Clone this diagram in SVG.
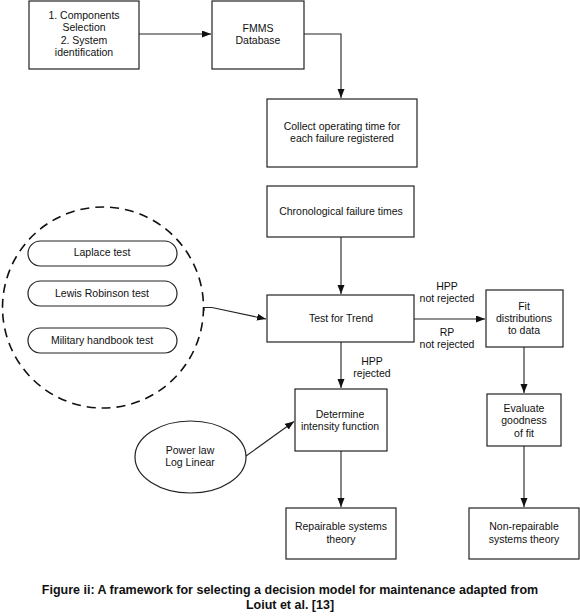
<svg xmlns="http://www.w3.org/2000/svg" width="580" height="616" viewBox="0 0 580 616">
<style>
.box{fill:#fff;stroke:#222;stroke-width:1.2}
.t{font-family:"Liberation Sans",Arial,sans-serif;font-size:10.5px;fill:#111;text-anchor:middle}
.c{fill:none;stroke:#222;stroke-width:1.1}
.cap{font-family:"Liberation Sans",Arial,sans-serif;font-weight:bold;font-size:12.5px;fill:#111;text-anchor:middle}
</style>
<defs>
<marker id="ah" markerUnits="userSpaceOnUse" markerWidth="10" markerHeight="8" refX="9" refY="3.5" orient="auto">
<path d="M0,0 L9,3.5 L0,7 z" fill="#111"/>
</marker>
</defs>
<rect width="580" height="616" fill="#fff"/>
<g id="connectors">
<path class="c" d="M139,34 H211" marker-end="url(#ah)"/>
<path class="c" d="M304,34 H341 V98" marker-end="url(#ah)"/>
<path class="c" d="M341,237 V294" marker-end="url(#ah)"/>
<path class="c" d="M204,311 V307.5 H212 L266,319" marker-end="url(#ah)"/>
<path class="c" d="M414,319 H485" marker-end="url(#ah)"/>
<path class="c" d="M341,342 V388" marker-end="url(#ah)"/>
<path class="c" d="M246,456 L294,421.5" marker-end="url(#ah)"/>
<path class="c" d="M341,451 V507" marker-end="url(#ah)"/>
<path class="c" d="M524,347 V393" marker-end="url(#ah)"/>
<path class="c" d="M524,446 V507" marker-end="url(#ah)"/>
</g>
<g id="components">
<rect class="box" x="29" y="1" width="110" height="68"/>
<text class="t" x="84" y="19">1. Components</text>
<text class="t" x="84" y="31">Selection</text>
<text class="t" x="84" y="44">2. System</text>
<text class="t" x="84" y="56">identification</text>
</g>
<g id="fmms">
<rect class="box" x="212" y="1" width="92" height="68"/>
<text class="t" x="258" y="32">FMMS</text>
<text class="t" x="258" y="44">Database</text>
</g>
<g id="collect">
<rect class="box" x="267" y="99" width="150" height="68"/>
<text class="t" x="342" y="130">Collect operating time for</text>
<text class="t" x="342" y="142">each failure registered</text>
</g>
<g id="chrono">
<rect class="box" x="267" y="186" width="147" height="51"/>
<text class="t" x="341" y="215">Chronological failure times</text>
</g>
<g id="trend">
<rect class="box" x="267" y="295" width="147" height="47"/>
<text class="t" x="341" y="322">Test for Trend</text>
</g>
<g id="labels">
<text class="t" x="447" y="290">HPP</text>
<text class="t" x="447" y="302">not rejected</text>
<text class="t" x="447" y="336">RP</text>
<text class="t" x="447" y="348">not rejected</text>
<text class="t" x="372" y="365">HPP</text>
<text class="t" x="372" y="377">rejected</text>
</g>
<g id="fit">
<rect class="box" x="486" y="290" width="77" height="57"/>
<text class="t" x="524" y="310">Fit</text>
<text class="t" x="524" y="322">distributions</text>
<text class="t" x="524" y="334">to data</text>
</g>
<g id="tests">
<circle cx="103" cy="307.5" r="100.5" fill="none" stroke="#111" stroke-width="1.6" stroke-dasharray="9,6"/>
<rect class="box" x="28" y="241" width="149" height="25" rx="12.5"/>
<text class="t" x="102" y="256">Laplace test</text>
<rect class="box" x="28" y="281" width="149" height="25" rx="12.5"/>
<text class="t" x="102" y="297">Lewis Robinson test</text>
<rect class="box" x="28" y="328" width="149" height="25" rx="12.5"/>
<text class="t" x="102" y="344">Military handbook test</text>
</g>
<g id="determine">
<rect class="box" x="295" y="389" width="92" height="62"/>
<text class="t" x="340" y="418">Determine</text>
<text class="t" x="340" y="430">intensity function</text>
</g>
<g id="powerlaw">
<ellipse class="box" cx="190.5" cy="457" rx="55.5" ry="36"/>
<text class="t" x="190" y="454">Power law</text>
<text class="t" x="190" y="466">Log Linear</text>
</g>
<g id="evaluate">
<rect class="box" x="487" y="394" width="74" height="52"/>
<text class="t" x="524" y="412">Evaluate</text>
<text class="t" x="524" y="424">goodness</text>
<text class="t" x="524" y="437">of fit</text>
</g>
<g id="repairable">
<rect class="box" x="286" y="508" width="110" height="51"/>
<text class="t" x="341" y="530">Repairable systems</text>
<text class="t" x="341" y="543">theory</text>
</g>
<g id="nonrepairable">
<rect class="box" x="469" y="508" width="110" height="51"/>
<text class="t" x="524" y="530">Non-repairable</text>
<text class="t" x="524" y="543">systems theory</text>
</g>
<g id="caption">
<text class="cap" x="290" y="594">Figure ii: A framework for selecting a decision model for maintenance adapted from</text>
<text class="cap" x="290" y="609">Loiut et al. [13]</text>
</g>
</svg>
